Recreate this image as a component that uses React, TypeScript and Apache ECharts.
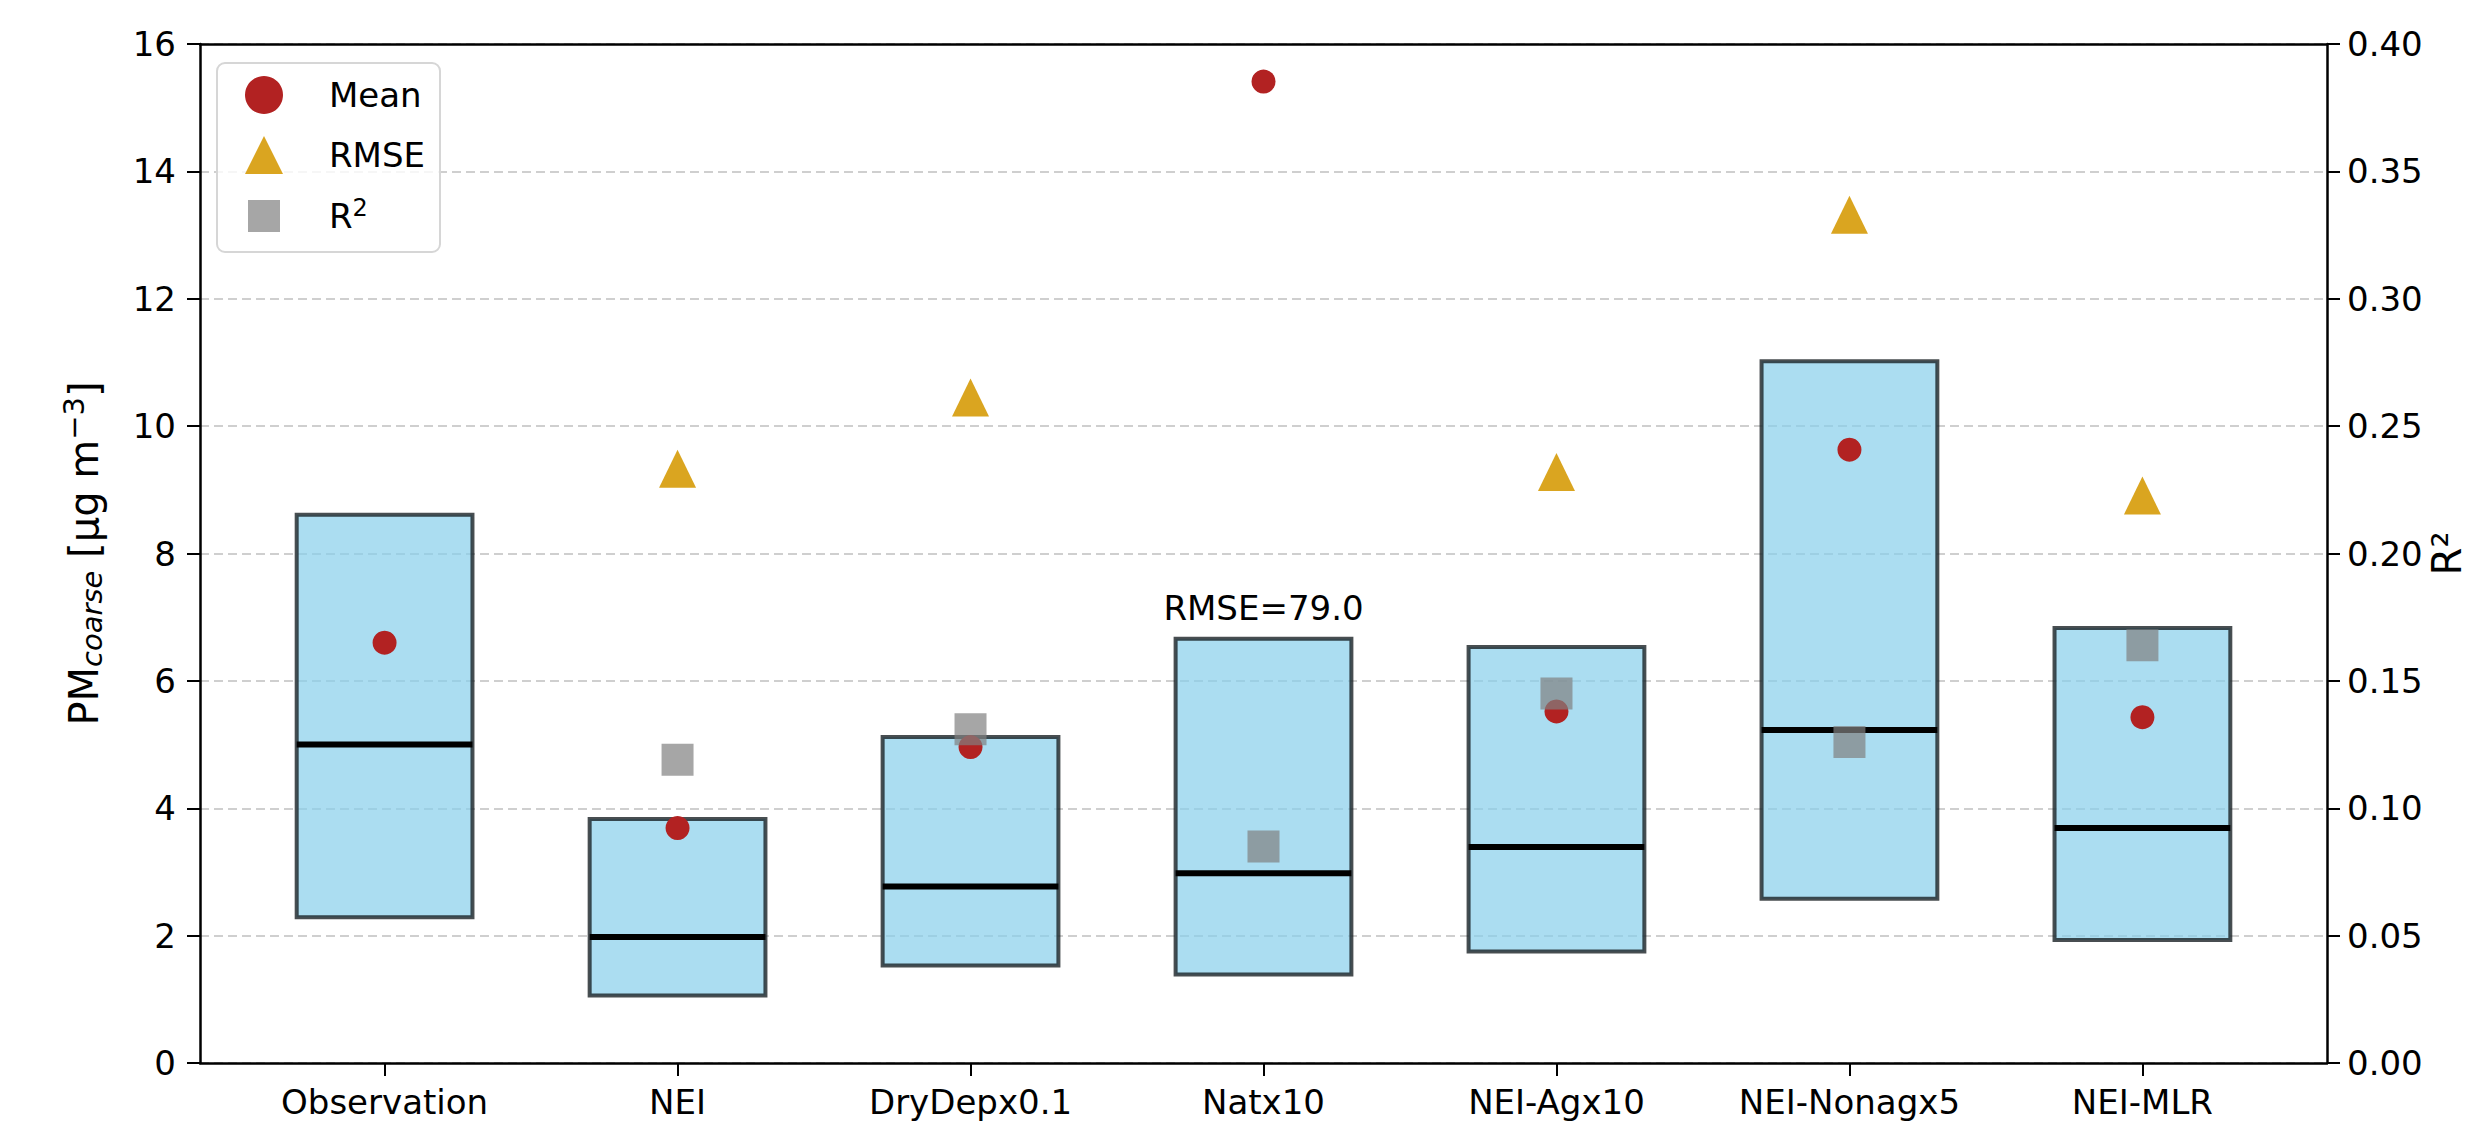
import { useEffect, useRef } from "react";
import * as echarts from "echarts";

// Model runs compared against observations
const categories = [
  "Observation",
  "NEI",
  "DryDepx0.1",
  "Natx10",
  "NEI-Agx10",
  "NEI-Nonagx5",
  "NEI-MLR",
];

// Box extents (25th percentile, median, 75th percentile), µg m-3
const q1Values = [2.29, 1.06, 1.53, 1.39, 1.75, 2.58, 1.93];
const medianValues = [5.0, 1.98, 2.77, 2.98, 3.39, 5.23, 3.69];
const q3Values = [8.61, 3.83, 5.12, 6.66, 6.53, 11.02, 6.83];

// Summary statistics per run
const meanValues = [6.6, 3.69, 4.96, 15.41, 5.52, 9.63, 5.43];
const rmseValues: (number | null)[] = [null, 9.33, 10.45, 79.0, 9.28, 13.32, 8.91];
const r2Values: (number | null)[] = [null, 0.119, 0.131, 0.085, 0.145, 0.126, 0.164];

// Axis ranges
const LEFT_MAX = 16;
const LEFT_STEP = 2;
const RIGHT_MAX = 0.4;
const RIGHT_STEP = 0.05;
const X_MIN = -0.63;
const X_MAX = 6.63;
const BOX_HALF = 0.3;

const FONT = "DejaVu Sans";
const positions = categories.map((_, i) => i);

export default function App() {
  const ref = useRef<HTMLDivElement>(null);

  useEffect(() => {
    if (!ref.current) return;
    const chart = echarts.init(ref.current, undefined, { renderer: "svg" });

    const boxData = categories.map((_, i) => [i, q1Values[i], medianValues[i], q3Values[i]]);
    const meanData = meanValues.map((v, i) => [i, v]);
    const rmseData = rmseValues.map((v, i) => [i, v == null ? "-" : v]);
    const r2Data = r2Values.map((v, i) => [i, v == null ? "-" : v]);
    // RMSE values that fall above the axis get written above their box
    const offScale = rmseValues
      .map((v, i) => (v != null && v > LEFT_MAX ? [i, v, q3Values[i]] : null))
      .filter((d) => d != null) as number[][];

    const tickLabel = { fontFamily: FONT, fontSize: 34, color: "#000" };
    const axisLine = { show: true, onZero: false, lineStyle: { color: "#000", width: 2.5 } };
    const axisTick = { show: true, length: 13, lineStyle: { color: "#000", width: 2 } };

    chart.setOption({
      animation: false,
      backgroundColor: "#fff",
      grid: {
        left: 200,
        right: 142,
        top: 44,
        bottom: 62,
        containLabel: false,
        outerBoundsMode: "none",
      },
      legend: {
        orient: "vertical",
        left: 217,
        top: 63,
        padding: [13, 15, 17, 28],
        itemGap: 22,
        itemWidth: 38,
        itemHeight: 38,
        backgroundColor: "rgba(255,255,255,0.8)",
        borderColor: "#d6d6d6",
        borderWidth: 2,
        borderRadius: 8,
        data: [
          { name: "Mean", icon: "circle" },
          { name: "RMSE", icon: "triangle" },
          { name: "R2", icon: "path://M0 0M3 3L35 3L35 35L3 35ZM38 38" },
        ],
        formatter: (name: string) => (name === "R2" ? "{b|R}{sup|2}" : "{b|" + name + "}"),
        textStyle: {
          padding: [0, 0, 0, 41],
          rich: {
            b: { fontFamily: FONT, fontSize: 34, color: "#000", lineHeight: 38 },
            sup: { fontFamily: FONT, fontSize: 24, color: "#000", padding: [0, 0, 16, 0] },
          },
        },
      },
      xAxis: [
        {
          type: "value",
          min: X_MIN,
          max: X_MAX,
          axisLine,
          axisTick: { ...axisTick, customValues: positions },
          axisLabel: {
            ...tickLabel,
            customValues: positions,
            margin: 22,
            formatter: (v: number) => categories[Math.round(v)] ?? "",
          },
          splitLine: { show: false },
        },
        {
          type: "value",
          position: "top",
          min: X_MIN,
          max: X_MAX,
          axisLine,
          axisTick: { show: false },
          axisLabel: { show: false },
          splitLine: { show: false },
        },
      ],
      yAxis: [
        {
          type: "value",
          position: "left",
          min: 0,
          max: LEFT_MAX,
          interval: LEFT_STEP,
          axisLine,
          axisTick,
          axisLabel: { ...tickLabel, margin: 24 },
          splitLine: {
            show: true,
            lineStyle: { color: "#cfcfcf", width: 2, type: [9, 5] },
          },
          name: "{b|PM}{sub|coarse}{b| [μg m}{sup|−3}{b|]}",
          nameLocation: "middle",
          nameGap: 92,
          nameTextStyle: {
            rich: {
              b: { fontFamily: FONT, fontSize: 40, color: "#000" },
              sub: { fontFamily: FONT, fontSize: 29, fontStyle: "italic", color: "#000", padding: [16, 0, 0, 0] },
              sup: { fontFamily: FONT, fontSize: 29, color: "#000", padding: [0, 0, 20, 0] },
            },
          },
        },
        {
          type: "value",
          position: "right",
          min: 0,
          max: RIGHT_MAX,
          interval: RIGHT_STEP,
          axisLine,
          axisTick,
          axisLabel: { ...tickLabel, margin: 20, formatter: (v: number) => v.toFixed(2) },
          splitLine: { show: false },
          name: "R²",
          nameLocation: "middle",
          nameGap: 100,
          nameMoveOverlap: false,
          nameTextStyle: { fontFamily: FONT, fontSize: 40, color: "#000" },
        },
      ],
      series: [
        {
          type: "custom",
          name: "box",
          xAxisIndex: 0,
          yAxisIndex: 0,
          data: boxData,
          z: 1,
          renderItem: (_params: any, api: any) => {
            const x = api.value(0);
            const topLeft = api.coord([x - BOX_HALF, api.value(3)]);
            const bottomRight = api.coord([x + BOX_HALF, api.value(1)]);
            const medL = api.coord([x - BOX_HALF, api.value(2)]);
            const medR = api.coord([x + BOX_HALF, api.value(2)]);
            return {
              type: "group",
              children: [
                {
                  type: "rect",
                  shape: {
                    x: topLeft[0],
                    y: topLeft[1],
                    width: bottomRight[0] - topLeft[0],
                    height: bottomRight[1] - topLeft[1],
                  },
                  style: {
                    fill: "rgba(135,206,235,0.7)",
                    stroke: "rgba(20,28,32,0.78)",
                    lineWidth: 4,
                  },
                },
                {
                  type: "line",
                  shape: { x1: medL[0], y1: medL[1], x2: medR[0], y2: medR[1] },
                  style: { stroke: "#000", lineWidth: 6 },
                },
              ],
            };
          },
        },
        {
          type: "custom",
          name: "rmseNote",
          xAxisIndex: 0,
          yAxisIndex: 0,
          data: offScale,
          z: 5,
          renderItem: (_params: any, api: any) => {
            const p = api.coord([api.value(0), api.value(2)]);
            return {
              type: "text",
              x: p[0],
              y: p[1] - 14,
              style: {
                text: "RMSE=" + Number(api.value(1)).toFixed(1),
                fontFamily: FONT,
                fontSize: 34,
                fill: "#000",
                align: "center",
                verticalAlign: "bottom",
              },
            };
          },
        },
        {
          type: "scatter",
          name: "Mean",
          xAxisIndex: 0,
          yAxisIndex: 0,
          data: meanData,
          symbol: "circle",
          symbolSize: 24,
          itemStyle: { color: "#b22222", opacity: 1 },
          z: 3,
        },
        {
          type: "scatter",
          name: "RMSE",
          xAxisIndex: 0,
          yAxisIndex: 0,
          data: rmseData,
          symbol: "triangle",
          symbolSize: [37, 38],
          itemStyle: { color: "#daa520", opacity: 1 },
          clip: true,
          z: 3,
        },
        {
          type: "scatter",
          name: "R2",
          xAxisIndex: 0,
          yAxisIndex: 1,
          data: r2Data,
          symbol: "rect",
          symbolSize: 32,
          itemStyle: { color: "rgba(128,128,128,0.7)", opacity: 1 },
          z: 4,
        },
      ],
    });

    return () => chart.dispose();
  }, []);

  return (
    <div
      ref={ref}
      style={{ position: "fixed", left: 0, top: 0, width: 2469, height: 1125, background: "#fff" }}
    />
  );
}
